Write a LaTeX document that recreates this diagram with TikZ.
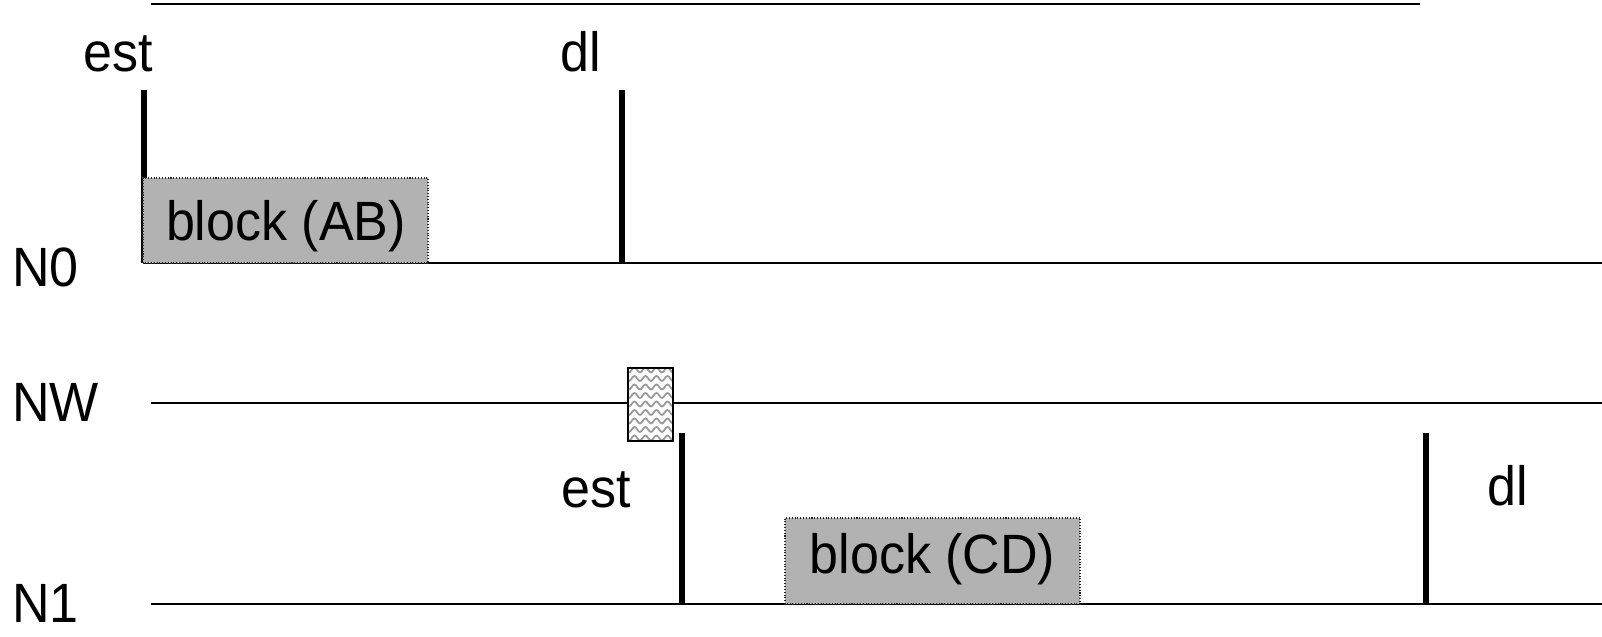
\documentclass[tikz,border=0pt]{standalone}
\usepackage{fontspec}
\setmainfont{Liberation Sans}[FakeStretch=0.94]
\usetikzlibrary{decorations.pathmorphing}

\begin{document}
\begin{tikzpicture}[line cap=butt]
    % two nodes N0, N1 and the network NW in between
    \def\W{32.04}
    \def\yN{7.48}
    \def\yW{4.68}
    \def\yM{0.66}
    \tikzset{
        lbl/.style={font=\fontsize{31.5}{36}\selectfont, inner sep=0pt},
        blk/.style={fill=black!30, draw=black!85, densely dotted, line width=0.6pt},
        bar/.style={line width=3pt},
        axis/.style={line width=1pt}
    }
    \useasboundingbox (0,0) rectangle (\W,12.74);

    \coordinate (A0) at (2.86, \yN);
    \coordinate (B0) at (\W, \yN);
    \coordinate (AW) at (3.02, \yW);
    \coordinate (BW) at (\W, \yW);
    \coordinate (A1) at (3.02, \yM);
    \coordinate (B1) at (\W, \yM);
    \coordinate (T1) at (3.02, 12.66);
    \coordinate (T2) at (28.4, 12.66);

    \draw[axis] (T1) -- (T2);
    \draw[axis] (A0) -- (B0);
    \draw[axis] (AW) -- (BW);
    \draw[axis] (A1) -- (B1);

    \node[lbl, anchor=base west] (n0) at (0.24, 7.0) {N0};
    \node[lbl, anchor=base west] (nw) at (0.24, 4.3) {NW};
    \node[lbl, anchor=base west] (n1) at (0.24, 0.28) {N1};

    % node N0
    \draw[bar] (2.88, \yN) -- (2.88, 10.94);
    \draw[bar] (12.44, \yN) -- (12.44, 10.94);
    \node[lbl, anchor=base] (est0) at (2.37, 11.3) {est};
    \node[lbl, anchor=base] (dl0) at (11.62, 11.3) {dl};
    \draw[blk] (2.86, \yN) rectangle (8.56, 9.18);
    \node[lbl, anchor=base] (ab) at (5.72, 7.92) {block (AB)};

    % message on the network
    \fill[white] (12.56, 3.92) rectangle (13.46, 5.38);
    \begin{scope}
        \clip (12.56, 3.92) rectangle (13.46, 5.38);
        \foreach \n in {0, ..., 8}{
            \draw[black!40, line width=1pt, decorate,
                  decoration={snake, amplitude=0.05cm, segment length=0.22cm}]
                (12.4, {3.98+\n*0.17}) -- (13.7, {3.98+\n*0.17});
        };
    \end{scope}
    \draw[line width=1.2pt] (12.56, 3.92) rectangle (13.46, 5.38);

    % node N1
    \draw[bar] (13.64, \yM) -- (13.64, 4.08);
    \draw[bar] (28.52, \yM) -- (28.52, 4.08);
    \node[lbl, anchor=base] (est1) at (11.92, 2.58) {est};
    \node[lbl, anchor=base] (dl1) at (30.16, 2.62) {dl};
    \draw[blk] (15.7, \yM) rectangle (21.6, 2.38);
    \node[lbl, anchor=base] (cd) at (18.65, 1.26) {block (CD)};
\end{tikzpicture}
\end{document}
